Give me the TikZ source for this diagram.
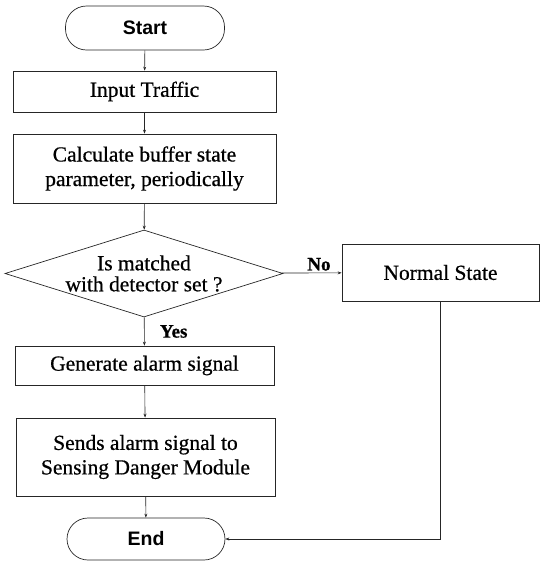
\documentclass[tikz,border=0pt]{standalone}
\usepackage{fontspec}
\setmainfont{Liberation Serif}[FakeBold=0.8]
\newfontfamily\bodyf{Liberation Serif}[FakeBold=0.6]
\newfontfamily\arialf{Liberation Sans}
\usetikzlibrary{shapes.geometric,arrows.meta}
\begin{document}
\begin{tikzpicture}[x=1pt,y=-1pt,
  every node/.style={font=\bodyf\fontsize{21.5}{24.5}\selectfont},
  procbox/.style={draw=black!85, line width=0.7pt, inner sep=0pt, align=center},
  termbox/.style={draw=black!85, line width=0.7pt, rounded corners=21pt, inner sep=0pt, font=\arialf\bfseries\fontsize{19.5}{22}\selectfont},
  link/.style={draw=black!85, line width=0.6pt, -{Stealth[length=4pt,width=3pt]}},
  lbl/.style={font=\rmfamily\bfseries\fontsize{19}{22}\selectfont}]
\useasboundingbox (0,0) rectangle (540,563);
\node[termbox, minimum width=159pt, minimum height=44pt] (start) at (145,28) {Start};
\node[procbox, minimum width=263pt, minimum height=41pt] (input) at (144.5,91.5) {Input Traffic};
\node[procbox, minimum width=263pt, minimum height=69pt] (calc) at (144.5,168.5) {Calculate buffer state\\parameter, periodically};
\node[draw=black!85, line width=0.7pt, diamond, aspect=3.2, minimum width=278pt, minimum height=87pt, inner sep=0pt, align=center, font=\bodyf\fontsize{21.5}{21}\selectfont] (dec) at (144,273.5) {Is matched\\with detector set ?};
\node[procbox, minimum width=197pt, minimum height=57pt] (normal) at (440.5,272.5) {Normal State};
\node[procbox, minimum width=259pt, minimum height=39pt] (gen) at (144.5,365.5) {Generate alarm signal};
\node[procbox, minimum width=259pt, minimum height=78pt] (sends) at (145.5,457) {Sends alarm signal to\\Sensing Danger Module};
\node[termbox, minimum width=158pt, minimum height=42pt] (end) at (146,539) {End};
\coordinate (corner) at (normal.south |- end.east);
\draw[link] (start) -- (input);
\draw[link] (input) -- (calc);
\draw[link] (calc) -- (dec);
\draw[link] (dec) -- node[lbl, above, pos=0.62, inner sep=2pt] (no) {No} (normal);
\draw[link] (dec) -- node[lbl, right, xshift=12pt, pos=0.5] (yes) {Yes} (gen);
\draw[link] (gen) -- (sends);
\draw[link] (sends) -- (end);
\draw[link] (normal.south) -- (corner) -- (end.east);
\end{tikzpicture}
\end{document}
